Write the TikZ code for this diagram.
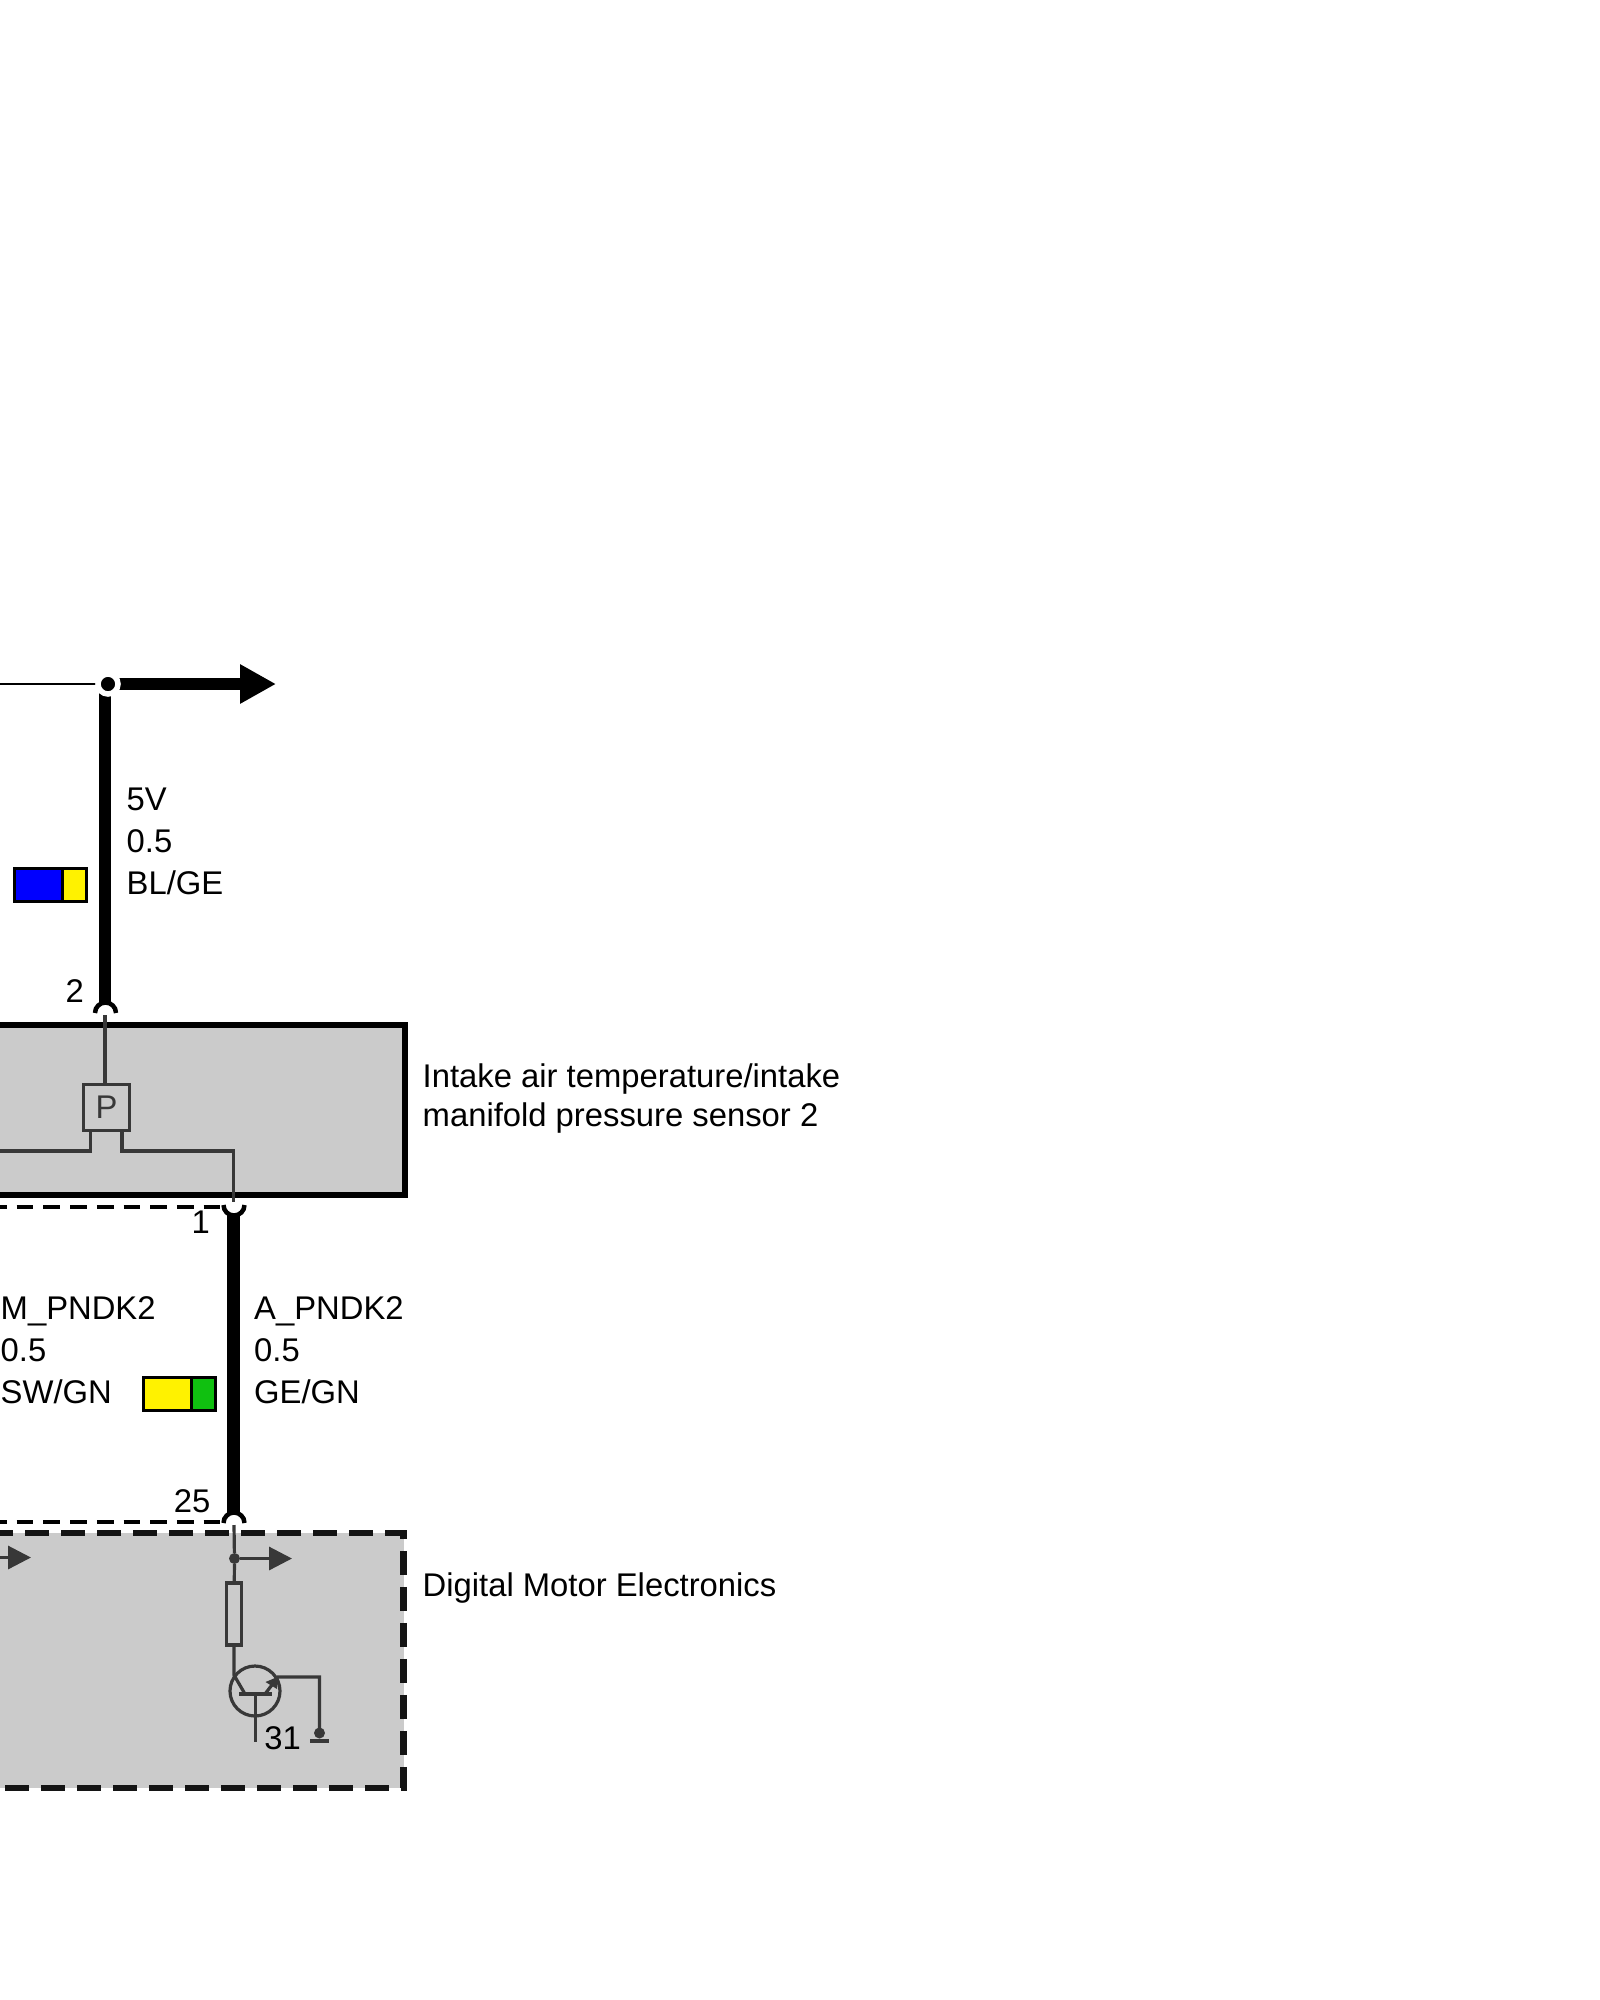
\documentclass[tikz,border=0pt]{standalone}
\usepackage{fontspec}
\setmainfont{Liberation Sans}
\usetikzlibrary{arrows.meta}
\definecolor{boxgray}{RGB}{203,203,203}
\definecolor{partgray}{RGB}{56,56,56}
\definecolor{wiregreen}{RGB}{16,192,16}
\tikzset{
	wire/.style={line width=12.5pt},
	thinwire/.style={line width=2.6pt},
	shield/.style={line width=4pt,dash pattern=on 16.7pt off 10pt,dash phase=10pt},
	termarc/.style={line width=4.5pt},
	part/.style={partgray,line width=3.2pt},
	partdot/.style={circle,fill=partgray,inner sep=0pt,minimum size=11pt},
	txt/.style={inner sep=0pt,anchor=north west,align=left,font=\fontsize{32.8}{42}\selectfont},
	pin/.style={inner sep=0pt,anchor=base east,font=\fontsize{32.8}{37}\selectfont},
	swatch/.style={draw=black,line width=3.2pt}
}
\begin{document}
\begin{tikzpicture}[x=1pt,y=-1pt]
			\useasboundingbox (0,0) rectangle (1600,2000);
			\coordinate (inL) at (0,684);
			\coordinate (jct) at (108,684);
			\coordinate (jctw) at (105,684);
			\coordinate (outR) at (276,684);
			\coordinate (term2) at (105.5,1013);
			\coordinate (term1) at (234,1205);
			\coordinate (term25) at (234,1523);
			\coordinate (scrL) at (0,1207);
			\coordinate (scrR) at (223,1207);
			\coordinate (scrbL) at (0,1522);
			\coordinate (scrbR) at (223,1522);
			% sensor box
			\path[fill=boxgray] (0,1025) rectangle (405,1195);
			\draw[line width=6.5pt] (0,1025) -- (405,1025) -- (405,1195) -- (0,1195);
			% DME box
			\path[fill=boxgray] (0,1533) rectangle (403.5,1788);
			\draw[line width=6.5pt,color=black!92,dash pattern=on 24pt off 12pt,dash phase=10.7pt] (0,1533) -- (403.5,1533) -- (403.5,1788) -- (0,1788);
			% wires
			\draw[thinwire] (inL) -- (jct);
			\draw[wire] (jctw) -- (105,1003);
			\draw[wire,-{Triangle[length=36pt,width=37pt]}] (jct) -- (outR);
			\draw[wire] (233.5,1214) -- (233.5,1514);
			\draw[shield] (scrL) -- (scrR);
			\draw[shield] (scrbL) -- (scrbR);
			\draw[termarc] (term2) ++(-10.5pt,0) arc (180:0:10.5pt);
			\draw[termarc] (term1) ++(-10.5pt,0) arc (180:360:10.5pt);
			\draw[termarc] (term25) ++(-10.5pt,0) arc (180:0:10.5pt);
			\node[circle,fill=black,draw=white,line width=5.5pt,inner sep=0pt,minimum size=20pt] (jctdot) at (jct) {};
			% sensor
			\node[draw=partgray,line width=3.2pt,fill=boxgray,minimum size=46.5pt,inner sep=0pt,text=partgray,font=\fontsize{32.8}{37}\selectfont] (psens) at (106.5,1107.5) {P};
			\draw[part] (105,1015) -- (105,1084);
			\draw[part] (90.5,1131) -- (90.5,1151) -- (0,1151);
			\draw[part] (122,1131) -- (122,1151) -- (233.5,1151) -- (233.5,1202);
			% DME
			\node[partdot] (dot25) at (234.5,1558.5) {};
			\coordinate (arrR) at (292,1558.5);
			\coordinate (arrL) at (31,1557.5);
			\coordinate (arrLs) at (0,1557.5);
			\draw[part] (234,1525) -- (dot25);
			\draw[part,-{Triangle[length=23pt,width=23pt]}] (dot25) -- (arrR);
			\draw[part,-{Triangle[length=23pt,width=23pt]}] (arrLs) -- (arrL);
			\node[draw=partgray,line width=3.2pt,fill=boxgray,minimum width=15pt,minimum height=62pt,inner sep=0pt] (res) at (234,1614) {};
			\draw[part] (dot25) -- (res);
			\node[draw=partgray,line width=3.2pt,circle,minimum size=50pt,inner sep=0pt] (trans) at (255,1691) {};
			\coordinate (emit) at (278,1677);
			\coordinate (gnd) at (319.5,1733);
			\draw[part] (res) -- (234,1675) -- (245,1694);
			\draw[part] (239,1694) -- (272,1694);
			\draw[part] (255.5,1694) -- (255.5,1742);
			\draw[part] (265,1694) -- (emit) -- (319.5,1677) -- (gnd);
			\fill[partgray] (278.5,1676.5) -- (277,1689) -- (265.5,1682) -- cycle;
			\node[partdot] (gnddot) at (gnd) {};
			\draw[part] (310,1741) -- (329,1741);
			% colour code
			\draw[swatch,fill=blue] (14.5,868.5) rectangle (62.5,901.5);
			\draw[swatch,fill=yellow] (62.5,868.5) rectangle (86.5,901.5);
			\draw[swatch,fill=yellow] (143.5,1377.5) rectangle (191.5,1410.5);
			\draw[swatch,fill=wiregreen] (191.5,1377.5) rectangle (215.5,1410.5);
			% labels
			\node[txt] (lab5v) at (126.5,788) {5V\\0.5\\BL/GE};
			\node[txt] (labm) at (0.5,1296.5) {M\_PNDK2\\0.5\\SW/GN};
			\node[txt] (laba) at (254,1296.5) {A\_PNDK2\\0.5\\GE/GN};
			\node[txt,font=\fontsize{32.8}{39}\selectfont] (labsens) at (422.5,1064) {Intake air temperature/intake\\manifold pressure sensor 2};
			\node[txt] (labdme) at (422.5,1572.5) {Digital Motor Electronics};
			\node[pin] (pin2) at (84,1002) {2};
			\node[pin] (pin1) at (210,1233) {1};
			\node[pin] (pin25) at (210.5,1512) {25};
			\node[pin] (pin31) at (301,1749) {31};
		\end{tikzpicture}
\end{document}
